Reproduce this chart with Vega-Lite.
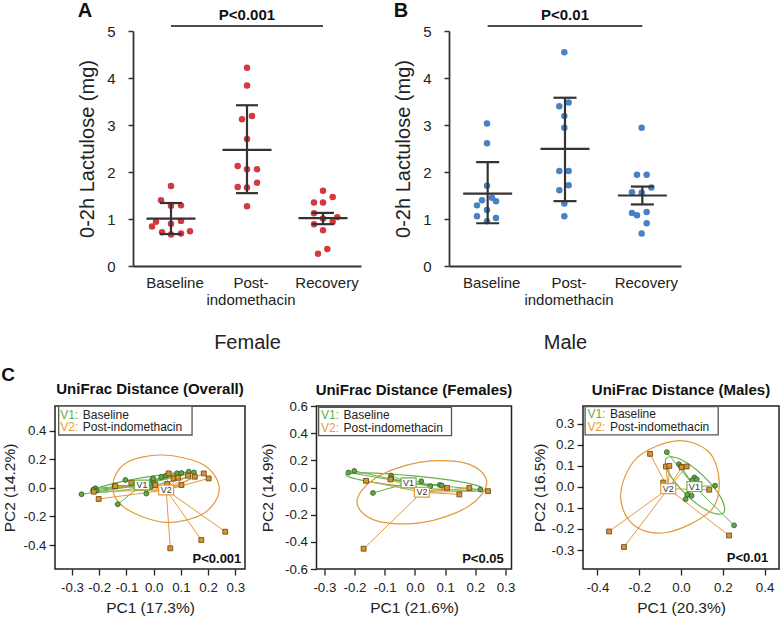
{
  "$schema": "https://vega.github.io/schema/vega-lite/v6.json",
  "padding": {"left": 1, "top": 1, "right": 0, "bottom": 0},
  "spacing": 13,
  "config": {
    "font": "Liberation Sans",
    "view": {"stroke": null},
    "axis": {"grid": false, "domainColor": "#333", "tickColor": "#333", "labelColor": "#222", "titleColor": "#222", "titleFontWeight": "normal", "labelFlush": false, "labelOverlap": false},
    "title": {"color": "#111"}
  },
  "datasets": {
    "fem": [
      {"t": "Baseline", "v": 1.70, "j": 0}, {"t": "Baseline", "v": 1.40, "j": -1}, {"t": "Baseline", "v": 1.28, "j": 0}, {"t": "Baseline", "v": 1.29, "j": 1},
      {"t": "Baseline", "v": 0.94, "j": -1.5}, {"t": "Baseline", "v": 0.84, "j": -1.9}, {"t": "Baseline", "v": 0.90, "j": 0}, {"t": "Baseline", "v": 0.96, "j": 1},
      {"t": "Baseline", "v": 0.72, "j": -0.9}, {"t": "Baseline", "v": 0.67, "j": 0}, {"t": "Baseline", "v": 0.69, "j": 1}, {"t": "Baseline", "v": 0.74, "j": 1.9},
      {"t": "Post-indomethacin", "v": 4.22, "j": 0}, {"t": "Post-indomethacin", "v": 3.84, "j": 0}, {"t": "Post-indomethacin", "v": 3.12, "j": -0.5}, {"t": "Post-indomethacin", "v": 3.19, "j": 0.5},
      {"t": "Post-indomethacin", "v": 2.70, "j": 0}, {"t": "Post-indomethacin", "v": 2.13, "j": -0.93}, {"t": "Post-indomethacin", "v": 2.06, "j": 0}, {"t": "Post-indomethacin", "v": 2.06, "j": 1},
      {"t": "Post-indomethacin", "v": 1.68, "j": -0.93}, {"t": "Post-indomethacin", "v": 1.67, "j": 0}, {"t": "Post-indomethacin", "v": 1.77, "j": 1}, {"t": "Post-indomethacin", "v": 1.27, "j": 0},
      {"t": "Recovery", "v": 1.60, "j": 0}, {"t": "Recovery", "v": 1.47, "j": 0.97}, {"t": "Recovery", "v": 1.35, "j": -0.9}, {"t": "Recovery", "v": 1.35, "j": 0},
      {"t": "Recovery", "v": 1.12, "j": -0.9}, {"t": "Recovery", "v": 1.01, "j": 0}, {"t": "Recovery", "v": 1.04, "j": 1.43}, {"t": "Recovery", "v": 0.94, "j": 0.97},
      {"t": "Recovery", "v": 0.89, "j": -0.9}, {"t": "Recovery", "v": 0.76, "j": 0}, {"t": "Recovery", "v": 0.36, "j": 0.43}, {"t": "Recovery", "v": 0.26, "j": -0.5}
    ],
    "femstat": [
      {"t": "Baseline", "mean": 1.01, "lo": 0.68, "hi": 1.34},
      {"t": "Post-indomethacin", "mean": 2.47, "lo": 1.55, "hi": 3.42},
      {"t": "Recovery", "mean": 1.02, "lo": 0.89, "hi": 1.13}
    ],
    "mal": [
      {"t": "Baseline", "v": 3.03, "j": 0}, {"t": "Baseline", "v": 2.61, "j": 0}, {"t": "Baseline", "v": 1.71, "j": 0}, {"t": "Baseline", "v": 1.40, "j": -0.5},
      {"t": "Baseline", "v": 1.45, "j": 0.5}, {"t": "Baseline", "v": 1.38, "j": 0.9}, {"t": "Baseline", "v": 1.29, "j": -1}, {"t": "Baseline", "v": 1.19, "j": 0},
      {"t": "Baseline", "v": 1.06, "j": -1}, {"t": "Baseline", "v": 1.02, "j": 0.9}, {"t": "Baseline", "v": 0.95, "j": 0},
      {"t": "Post-indomethacin", "v": 4.55, "j": 0}, {"t": "Post-indomethacin", "v": 3.40, "j": -0.5}, {"t": "Post-indomethacin", "v": 3.48, "j": 0.43}, {"t": "Post-indomethacin", "v": 3.19, "j": 0},
      {"t": "Post-indomethacin", "v": 2.94, "j": 0}, {"t": "Post-indomethacin", "v": 2.02, "j": -0.5}, {"t": "Post-indomethacin", "v": 2.02, "j": 0.43}, {"t": "Post-indomethacin", "v": 1.72, "j": 0.43},
      {"t": "Post-indomethacin", "v": 1.61, "j": -0.5}, {"t": "Post-indomethacin", "v": 1.33, "j": 0}, {"t": "Post-indomethacin", "v": 1.06, "j": 0},
      {"t": "Recovery", "v": 2.94, "j": 0}, {"t": "Recovery", "v": 1.94, "j": -0.47}, {"t": "Recovery", "v": 1.94, "j": 0.5}, {"t": "Recovery", "v": 1.67, "j": 0.97},
      {"t": "Recovery", "v": 1.57, "j": -0.97}, {"t": "Recovery", "v": 1.56, "j": 0}, {"t": "Recovery", "v": 1.13, "j": -0.97}, {"t": "Recovery", "v": 1.08, "j": -0.47},
      {"t": "Recovery", "v": 1.15, "j": 0.5}, {"t": "Recovery", "v": 0.91, "j": 0.5}, {"t": "Recovery", "v": 0.69, "j": 0}
    ],
    "malstat": [
      {"t": "Baseline", "mean": 1.54, "lo": 0.91, "hi": 2.21},
      {"t": "Post-indomethacin", "mean": 2.49, "lo": 1.38, "hi": 3.58},
      {"t": "Recovery", "mean": 1.50, "lo": 1.31, "hi": 1.69}
    ],
    "o_pts": [
      {"v": "V1", "x": -0.265, "y": -0.045}, {"v": "V1", "x": -0.214, "y": -0.003}, {"v": "V1", "x": -0.210, "y": -0.020}, {"v": "V1", "x": -0.222, "y": -0.013},
      {"v": "V1", "x": -0.144, "y": 0.015}, {"v": "V1", "x": -0.104, "y": 0.055}, {"v": "V1", "x": -0.132, "y": -0.115}, {"v": "V1", "x": -0.027, "y": -0.040},
      {"v": "V1", "x": -0.006, "y": 0.055}, {"v": "V1", "x": 0.001, "y": 0.036}, {"v": "V1", "x": -0.002, "y": 0.066}, {"v": "V1", "x": 0.028, "y": 0.076},
      {"v": "V1", "x": 0.086, "y": 0.102}, {"v": "V1", "x": 0.102, "y": 0.104}, {"v": "V1", "x": 0.129, "y": 0.113}, {"v": "V1", "x": 0.148, "y": 0.108},
      {"v": "V1", "x": -0.010, "y": 0.006}, {"v": "V1", "x": 0.045, "y": 0.085},
      {"v": "V2", "x": -0.202, "y": -0.078}, {"v": "V2", "x": -0.141, "y": 0.012}, {"v": "V2", "x": -0.082, "y": 0.036}, {"v": "V2", "x": -0.220, "y": -0.027},
      {"v": "V2", "x": 0.055, "y": 0.101}, {"v": "V2", "x": 0.049, "y": 0.027}, {"v": "V2", "x": 0.073, "y": 0.066}, {"v": "V2", "x": 0.090, "y": 0.071},
      {"v": "V2", "x": 0.102, "y": 0.020}, {"v": "V2", "x": 0.126, "y": 0.085}, {"v": "V2", "x": 0.151, "y": 0.078}, {"v": "V2", "x": 0.184, "y": 0.101},
      {"v": "V2", "x": 0.202, "y": 0.066}, {"v": "V2", "x": 0.263, "y": -0.307}, {"v": "V2", "x": 0.175, "y": -0.365}, {"v": "V2", "x": 0.061, "y": -0.423},
      {"v": "V2", "x": 0.006, "y": 0.020}
    ],
    "o_cent": [{"v": "V1", "x": -0.043, "y": 0.020}, {"v": "V2", "x": 0.046, "y": -0.015}],
    "o_ell": [
      {"v": "V1", "i": 0, "x": 0.154, "y": 0.103}, {"v": "V1", "i": 1, "x": 0.100, "y": 0.062}, {"v": "V1", "i": 2, "x": -0.036, "y": 0.006}, {"v": "V1", "i": 3, "x": -0.173, "y": -0.029},
      {"v": "V1", "i": 4, "x": -0.232, "y": -0.025}, {"v": "V1", "i": 5, "x": -0.177, "y": 0.016}, {"v": "V1", "i": 6, "x": -0.042, "y": 0.071}, {"v": "V1", "i": 7, "x": 0.095, "y": 0.107},
      {"v": "V2", "i": 0, "x": -0.151, "y": 0.008}, {"v": "V2", "i": 1, "x": -0.104, "y": 0.171}, {"v": "V2", "i": 2, "x": 0.031, "y": 0.230}, {"v": "V2", "i": 3, "x": 0.184, "y": 0.160},
      {"v": "V2", "i": 4, "x": 0.241, "y": -0.008}, {"v": "V2", "i": 5, "x": 0.184, "y": -0.178}, {"v": "V2", "i": 6, "x": 0.043, "y": -0.241}, {"v": "V2", "i": 7, "x": -0.104, "y": -0.143}
    ],
    "f_pts": [
      {"v": "V1", "x": -0.220, "y": 0.110}, {"v": "V1", "x": -0.201, "y": 0.122}, {"v": "V1", "x": -0.139, "y": -0.040}, {"v": "V1", "x": -0.079, "y": 0.088},
      {"v": "V1", "x": -0.079, "y": 0.068}, {"v": "V1", "x": 0.021, "y": 0.046}, {"v": "V1", "x": 0.051, "y": 0.010}, {"v": "V1", "x": 0.082, "y": 0.019},
      {"v": "V1", "x": 0.089, "y": 0.015}, {"v": "V1", "x": 0.217, "y": -0.015},
      {"v": "V2", "x": -0.162, "y": 0.049}, {"v": "V2", "x": -0.081, "y": 0.059}, {"v": "V2", "x": 0.106, "y": -0.003}, {"v": "V2", "x": 0.147, "y": -0.051},
      {"v": "V2", "x": 0.180, "y": -0.003}, {"v": "V2", "x": 0.242, "y": -0.027}, {"v": "V2", "x": -0.170, "y": -0.451}
    ],
    "f_cent": [{"v": "V1", "x": -0.021, "y": 0.034}, {"v": "V2", "x": 0.023, "y": -0.035}],
    "f_ell": [
      {"v": "V1", "i": 0, "x": 0.221, "y": -0.005}, {"v": "V1", "i": 1, "x": 0.154, "y": -0.020}, {"v": "V1", "i": 2, "x": -0.006, "y": 0.002}, {"v": "V1", "i": 3, "x": -0.166, "y": 0.049},
      {"v": "V1", "i": 4, "x": -0.229, "y": 0.093}, {"v": "V1", "i": 5, "x": -0.163, "y": 0.108}, {"v": "V1", "i": 6, "x": -0.003, "y": 0.085}, {"v": "V1", "i": 7, "x": 0.157, "y": 0.039},
      {"v": "V2", "i": 0, "x": 0.238, "y": 0.037}, {"v": "V2", "i": 1, "x": 0.175, "y": 0.174}, {"v": "V2", "i": 2, "x": 0.023, "y": 0.189}, {"v": "V2", "i": 3, "x": -0.129, "y": 0.072},
      {"v": "V2", "i": 4, "x": -0.192, "y": -0.107}, {"v": "V2", "i": 5, "x": -0.129, "y": -0.244}, {"v": "V2", "i": 6, "x": 0.023, "y": -0.259}, {"v": "V2", "i": 7, "x": 0.175, "y": -0.142}
    ],
    "m_pts": [
      {"v": "V1", "x": -0.068, "y": 0.164}, {"v": "V1", "x": -0.010, "y": 0.107}, {"v": "V1", "x": 0.000, "y": 0.096}, {"v": "V1", "x": 0.064, "y": 0.044},
      {"v": "V1", "x": 0.075, "y": 0.036}, {"v": "V1", "x": 0.054, "y": 0.031}, {"v": "V1", "x": 0.163, "y": 0.005}, {"v": "V1", "x": 0.254, "y": -0.183},
      {"v": "V1", "x": 0.030, "y": -0.038}, {"v": "V1", "x": 0.051, "y": -0.043}, {"v": "V1", "x": 0.022, "y": -0.059},
      {"v": "V2", "x": -0.148, "y": 0.156}, {"v": "V2", "x": -0.072, "y": 0.096}, {"v": "V2", "x": -0.056, "y": 0.099}, {"v": "V2", "x": 0.003, "y": 0.093},
      {"v": "V2", "x": 0.027, "y": 0.096}, {"v": "V2", "x": -0.085, "y": 0.020}, {"v": "V2", "x": 0.135, "y": -0.014}, {"v": "V2", "x": -0.344, "y": -0.212},
      {"v": "V2", "x": -0.273, "y": -0.286}, {"v": "V2", "x": 0.230, "y": -0.231}
    ],
    "m_cent": [{"v": "V1", "x": 0.064, "y": 0.001}, {"v": "V2", "x": -0.061, "y": -0.009}],
    "m_ell": [
      {"v": "V1", "i": 0, "x": 0.204, "y": -0.124}, {"v": "V1", "i": 1, "x": 0.134, "y": -0.117}, {"v": "V1", "i": 2, "x": 0.025, "y": -0.037}, {"v": "V1", "i": 3, "x": -0.059, "y": 0.067},
      {"v": "V1", "i": 4, "x": -0.070, "y": 0.136}, {"v": "V1", "i": 5, "x": 0.000, "y": 0.129}, {"v": "V1", "i": 6, "x": 0.109, "y": 0.049}, {"v": "V1", "i": 7, "x": 0.193, "y": -0.055},
      {"v": "V2", "i": 0, "x": -0.021, "y": 0.218}, {"v": "V2", "i": 1, "x": 0.131, "y": 0.167}, {"v": "V2", "i": 2, "x": 0.183, "y": 0.025}, {"v": "V2", "i": 3, "x": 0.139, "y": -0.117},
      {"v": "V2", "i": 4, "x": -0.068, "y": -0.217}, {"v": "V2", "i": 5, "x": -0.228, "y": -0.180}, {"v": "V2", "i": 6, "x": -0.289, "y": -0.038}, {"v": "V2", "i": 7, "x": -0.212, "y": 0.136}
    ]
  },
  "vconcat": [
    {
      "bounds": "flush",
      "spacing": 76,
      "hconcat": [
        {"width": 2, "height": 10, "data": {"values": []}, "mark": "point", "encoding": {}},
        {
          "bounds": "flush",
          "spacing": 88,
          "hconcat": [
            {
              "width": 228, "height": 235,
              "title": {"text": "A", "anchor": "start", "frame": "bounds", "fontSize": 20, "fontWeight": "bold", "offset": -13},
              "layer": [
                {
                  "data": {"name": "fem"},
                  "mark": {"type": "point", "filled": true, "size": 42, "color": "#d13b40", "opacity": 1},
                  "encoding": {
                    "x": {"field": "t", "type": "nominal", "scale": {"domain": ["Baseline", "Post-indomethacin", "Recovery"], "paddingInner": 0, "paddingOuter": 0},
                      "axis": {"title": "Female", "ticks": false, "labelAngle": 0, "labelFontSize": 15, "labelPadding": 9, "labelLineHeight": 17, "labelOffset": 4,
                        "labelExpr": "datum.label == 'Post-indomethacin' ? ['Post-', 'indomethacin'] : datum.label",
                        "titleFontSize": 20, "titlePadding": 25, "domainWidth": 1.8}},
                    "xOffset": {"field": "j", "type": "quantitative", "scale": {"domain": [-2, 2], "range": [18, 58]}},
                    "y": {"field": "v", "type": "quantitative", "scale": {"domain": [0, 5], "nice": false},
                      "axis": {"title": "0-2h Lactulose (mg)", "values": [0, 1, 2, 3, 4, 5], "tickSize": 5, "tickWidth": 1.5, "labelFontSize": 15, "labelPadding": 13, "titleFontSize": 20, "titlePadding": 9, "domainWidth": 1.8}}
                  }
                },
                {
                  "data": {"name": "femstat"},
                  "mark": {"type": "rule", "color": "#333", "strokeWidth": 2.2},
                  "encoding": {
                    "x": {"field": "t", "type": "nominal", "scale": {"domain": ["Baseline", "Post-indomethacin", "Recovery"], "paddingInner": 0, "paddingOuter": 0}},
                    "y": {"field": "lo", "type": "quantitative", "scale": {"domain": [0, 5], "nice": false}},
                    "y2": {"field": "hi"}
                  }
                },
                {
                  "data": {"name": "femstat"},
                  "mark": {"type": "tick", "color": "#333", "thickness": 2.2, "size": 49, "opacity": 1},
                  "encoding": {
                    "x": {"field": "t", "type": "nominal", "scale": {"domain": ["Baseline", "Post-indomethacin", "Recovery"], "paddingInner": 0, "paddingOuter": 0}},
                    "y": {"field": "mean", "type": "quantitative", "scale": {"domain": [0, 5], "nice": false}}
                  }
                },
                {
                  "data": {"name": "femstat"},
                  "mark": {"type": "tick", "color": "#333", "thickness": 2.2, "size": 22, "opacity": 1},
                  "encoding": {
                    "x": {"field": "t", "type": "nominal", "scale": {"domain": ["Baseline", "Post-indomethacin", "Recovery"], "paddingInner": 0, "paddingOuter": 0}},
                    "y": {"field": "hi", "type": "quantitative", "scale": {"domain": [0, 5], "nice": false}}
                  }
                },
                {
                  "data": {"name": "femstat"},
                  "mark": {"type": "tick", "color": "#333", "thickness": 2.2, "size": 22, "opacity": 1},
                  "encoding": {
                    "x": {"field": "t", "type": "nominal", "scale": {"domain": ["Baseline", "Post-indomethacin", "Recovery"], "paddingInner": 0, "paddingOuter": 0}},
                    "y": {"field": "lo", "type": "quantitative", "scale": {"domain": [0, 5], "nice": false}}
                  }
                },
                {
                  "data": {"values": [{"label": "P<0.001"}]},
                  "mark": {"type": "rule", "color": "#111", "strokeWidth": 1.6},
                  "encoding": {
                    "x": {"datum": "Baseline", "type": "nominal", "bandPosition": 0.5, "scale": {"domain": ["Baseline", "Post-indomethacin", "Recovery"], "paddingInner": 0, "paddingOuter": 0}},
                    "x2": {"datum": "Recovery", "bandPosition": 0.5},
                    "y": {"datum": 5.106, "type": "quantitative", "scale": {"domain": [0, 5], "nice": false}}
                  }
                },
                {
                  "data": {"values": [{"label": "P<0.001"}]},
                  "mark": {"type": "text", "fontSize": 15, "fontWeight": "bold", "color": "#111", "baseline": "alphabetic", "align": "center"},
                  "encoding": {
                    "x": {"datum": "Post-indomethacin", "type": "nominal", "scale": {"domain": ["Baseline", "Post-indomethacin", "Recovery"], "paddingInner": 0, "paddingOuter": 0}},
                    "y": {"datum": 5.23, "type": "quantitative", "scale": {"domain": [0, 5], "nice": false}},
                    "text": {"field": "label"}
                  }
                }
              ]
            },
            {
              "width": 232, "height": 235,
              "title": {"text": "B", "anchor": "start", "frame": "bounds", "fontSize": 20, "fontWeight": "bold", "offset": -13},
              "layer": [
                {
                  "data": {"name": "mal"},
                  "mark": {"type": "point", "filled": true, "size": 42, "color": "#4a80c4", "opacity": 1},
                  "encoding": {
                    "x": {"field": "t", "type": "nominal", "scale": {"domain": ["Baseline", "Post-indomethacin", "Recovery"], "paddingInner": 0, "paddingOuter": 0},
                      "axis": {"title": "Male", "ticks": false, "labelAngle": 0, "labelFontSize": 15, "labelPadding": 9, "labelLineHeight": 17, "labelOffset": 4,
                        "labelExpr": "datum.label == 'Post-indomethacin' ? ['Post-', 'indomethacin'] : datum.label",
                        "titleFontSize": 20, "titlePadding": 25, "domainWidth": 1.8}},
                    "xOffset": {"field": "j", "type": "quantitative", "scale": {"domain": [-2, 2], "range": [18.67, 58.67]}},
                    "y": {"field": "v", "type": "quantitative", "scale": {"domain": [0, 5], "nice": false},
                      "axis": {"title": "0-2h Lactulose (mg)", "values": [0, 1, 2, 3, 4, 5], "tickSize": 5, "tickWidth": 1.5, "labelFontSize": 15, "labelPadding": 13, "titleFontSize": 20, "titlePadding": 9, "domainWidth": 1.8}}
                  }
                },
                {
                  "data": {"name": "malstat"},
                  "mark": {"type": "rule", "color": "#333", "strokeWidth": 2.2},
                  "encoding": {
                    "x": {"field": "t", "type": "nominal", "scale": {"domain": ["Baseline", "Post-indomethacin", "Recovery"], "paddingInner": 0, "paddingOuter": 0}},
                    "y": {"field": "lo", "type": "quantitative", "scale": {"domain": [0, 5], "nice": false}},
                    "y2": {"field": "hi"}
                  }
                },
                {
                  "data": {"name": "malstat"},
                  "mark": {"type": "tick", "color": "#333", "thickness": 2.2, "size": 49, "opacity": 1},
                  "encoding": {
                    "x": {"field": "t", "type": "nominal", "scale": {"domain": ["Baseline", "Post-indomethacin", "Recovery"], "paddingInner": 0, "paddingOuter": 0}},
                    "y": {"field": "mean", "type": "quantitative", "scale": {"domain": [0, 5], "nice": false}}
                  }
                },
                {
                  "data": {"name": "malstat"},
                  "mark": {"type": "tick", "color": "#333", "thickness": 2.2, "size": 23, "opacity": 1},
                  "encoding": {
                    "x": {"field": "t", "type": "nominal", "scale": {"domain": ["Baseline", "Post-indomethacin", "Recovery"], "paddingInner": 0, "paddingOuter": 0}},
                    "y": {"field": "hi", "type": "quantitative", "scale": {"domain": [0, 5], "nice": false}}
                  }
                },
                {
                  "data": {"name": "malstat"},
                  "mark": {"type": "tick", "color": "#333", "thickness": 2.2, "size": 23, "opacity": 1},
                  "encoding": {
                    "x": {"field": "t", "type": "nominal", "scale": {"domain": ["Baseline", "Post-indomethacin", "Recovery"], "paddingInner": 0, "paddingOuter": 0}},
                    "y": {"field": "lo", "type": "quantitative", "scale": {"domain": [0, 5], "nice": false}}
                  }
                },
                {
                  "data": {"values": [{"label": "P<0.01"}]},
                  "mark": {"type": "rule", "color": "#111", "strokeWidth": 1.6},
                  "encoding": {
                    "x": {"datum": "Baseline", "type": "nominal", "bandPosition": 0.5, "scale": {"domain": ["Baseline", "Post-indomethacin", "Recovery"], "paddingInner": 0, "paddingOuter": 0}},
                    "x2": {"datum": "Recovery", "bandPosition": 0.5},
                    "y": {"datum": 5.106, "type": "quantitative", "scale": {"domain": [0, 5], "nice": false}}
                  }
                },
                {
                  "data": {"values": [{"label": "P<0.01"}]},
                  "mark": {"type": "text", "fontSize": 15, "fontWeight": "bold", "color": "#111", "baseline": "alphabetic", "align": "center"},
                  "encoding": {
                    "x": {"datum": "Post-indomethacin", "type": "nominal", "scale": {"domain": ["Baseline", "Post-indomethacin", "Recovery"], "paddingInner": 0, "paddingOuter": 0}},
                    "y": {"datum": 5.23, "type": "quantitative", "scale": {"domain": [0, 5], "nice": false}},
                    "text": {"field": "label"}
                  }
                }
              ]
            }
          ]
        }
      ]
    },
    {
      "vconcat": [
        {
          "bounds": "flush",
          "spacing": 71.5,
          "title": {"text": "C", "anchor": "start", "frame": "bounds", "fontSize": 19, "fontWeight": "bold", "offset": -3},
          "hconcat": [
            {
              "width": 190, "height": 163,
              "view": {"stroke": "#222", "strokeWidth": 1.5},
              "title": {"text": "UniFrac Distance (Overall)", "frame": "group", "anchor": "middle", "fontSize": 15, "fontWeight": "bold", "offset": 8},
              "layer": [
                {
                  "encoding": {
                    "x": {"field": "x", "type": "quantitative", "scale": {"domain": [-0.3625, 0.3355], "nice": false, "zero": false},
                      "axis": {"title": "PC1 (17.3%)", "values": [-0.3, -0.2, -0.1, 0, 0.1, 0.2, 0.3], "labelExpr": "(datum.value < 0 ? '-' : '') + format(abs(datum.value), '.1f')", "labelOverlap": false, "domain": false, "tickSize": 6, "tickWidth": 1.3, "tickColor": "#222", "labelFontSize": 13.3, "labelPadding": 5, "titleFontSize": 15.5, "titlePadding": 7}},
                    "y": {"field": "y", "type": "quantitative", "scale": {"domain": [-0.568, 0.573], "nice": false, "zero": false},
                      "axis": {"title": "PC2 (14.2%)", "values": [-0.4, -0.2, 0, 0.2, 0.4], "labelExpr": "(datum.value < 0 ? '-' : '') + format(abs(datum.value), '.1f')", "labelOverlap": false, "domain": false, "tickSize": 6, "tickWidth": 1.3, "tickColor": "#222", "labelFontSize": 13.3, "labelPadding": 3, "titleFontSize": 15.5, "titlePadding": 6}}
                  },
                  "layer": [
                    {"data": {"name": "o_ell"}, "mark": {"type": "line", "interpolate": "cardinal-closed", "strokeWidth": 1.2},
                      "encoding": {"color": {"field": "v", "type": "nominal", "scale": {"domain": ["V1", "V2"], "range": ["#6ab04c", "#e39a3b"]}, "legend": null}, "order": {"field": "i", "type": "quantitative"}}},
                    {"data": {"name": "o_pts"}, "transform": [{"lookup": "v", "from": {"data": {"name": "o_cent"}, "key": "v", "fields": ["x", "y"]}, "as": ["cx", "cy"]}],
                      "mark": {"type": "rule", "strokeWidth": 1},
                      "encoding": {"x2": {"field": "cx"}, "y2": {"field": "cy"}, "color": {"field": "v", "type": "nominal", "scale": {"domain": ["V1", "V2"], "range": ["#6ab04c", "#e39a3b"]}, "legend": null}}},
                    {"data": {"name": "o_pts"}, "mark": {"type": "point", "filled": true, "size": 24, "strokeWidth": 0.8, "opacity": 1},
                      "encoding": {
                        "fill": {"field": "v", "type": "nominal", "scale": {"domain": ["V1", "V2"], "range": ["#63a646", "#d8922f"]}, "legend": null},
                        "stroke": {"field": "v", "type": "nominal", "scale": {"domain": ["V1", "V2"], "range": ["#2d5a1e", "#6a4310"]}, "legend": null},
                        "shape": {"field": "v", "type": "nominal", "scale": {"domain": ["V1", "V2"], "range": ["circle", "square"]}, "legend": null}}},
                    {"data": {"name": "o_cent"}, "mark": {"type": "point", "shape": "M-1,-0.66L1,-0.66L1,0.66L-1,0.66Z", "size": 225, "filled": false, "fill": "white", "strokeWidth": 1.2, "opacity": 1},
                      "encoding": {"color": {"field": "v", "type": "nominal", "scale": {"domain": ["V1", "V2"], "range": ["#6ab04c", "#e39a3b"]}, "legend": null}}},
                    {"data": {"name": "o_cent"}, "mark": {"type": "text", "fontSize": 9, "color": "#333", "align": "center", "baseline": "middle"},
                      "encoding": {"text": {"field": "v"}}}
                  ]
                },
                {"data": {"values": [{"note": "legend"}]}, "mark": {"type": "rect", "fill": "white", "stroke": "#555", "strokeWidth": 1.3},
                  "encoding": {
                    "x": {"datum": -0.349, "type": "quantitative", "scale": {"domain": [-0.3625, 0.3355], "nice": false, "zero": false},
                      "axis": {"title": "PC1 (17.3%)", "values": [-0.3, -0.2, -0.1, 0, 0.1, 0.2, 0.3], "labelExpr": "(datum.value < 0 ? '-' : '') + format(abs(datum.value), '.1f')", "labelOverlap": false, "domain": false, "tickSize": 6, "tickWidth": 1.3, "tickColor": "#222", "labelFontSize": 13.3, "labelPadding": 5, "titleFontSize": 15.5, "titlePadding": 7}},
                    "x2": {"datum": 0.141},
                    "y": {"datum": 0.370, "type": "quantitative", "scale": {"domain": [-0.568, 0.573], "nice": false, "zero": false},
                      "axis": {"title": "PC2 (14.2%)", "values": [-0.4, -0.2, 0, 0.2, 0.4], "labelExpr": "(datum.value < 0 ? '-' : '') + format(abs(datum.value), '.1f')", "labelOverlap": false, "domain": false, "tickSize": 6, "tickWidth": 1.3, "tickColor": "#222", "labelFontSize": 13.3, "labelPadding": 3, "titleFontSize": 15.5, "titlePadding": 6}},
                    "y2": {"datum": 0.573}}},
                {"data": {"values": [{"note": "legend"}]},
                  "layer": [
                    {"mark": {"type": "text", "text": "V1:", "fontSize": 12, "color": "#5cb048", "align": "left", "baseline": "alphabetic"},
                      "encoding": {"y": {"datum": 0.481, "type": "quantitative", "scale": {"domain": [-0.568, 0.573], "nice": false, "zero": false},
                        "axis": {"title": "PC2 (14.2%)", "values": [-0.4, -0.2, 0, 0.2, 0.4], "labelExpr": "(datum.value < 0 ? '-' : '') + format(abs(datum.value), '.1f')", "labelOverlap": false, "domain": false, "tickSize": 6, "tickWidth": 1.3, "tickColor": "#222", "labelFontSize": 13.3, "labelPadding": 3, "titleFontSize": 15.5, "titlePadding": 6}}}},
                    {"mark": {"type": "text", "text": "Baseline", "fontSize": 12, "color": "#222", "align": "left", "baseline": "alphabetic", "dx": 22.5},
                      "encoding": {"y": {"datum": 0.481, "type": "quantitative", "scale": {"domain": [-0.568, 0.573], "nice": false, "zero": false},
                        "axis": {"title": "PC2 (14.2%)", "values": [-0.4, -0.2, 0, 0.2, 0.4], "labelExpr": "(datum.value < 0 ? '-' : '') + format(abs(datum.value), '.1f')", "labelOverlap": false, "domain": false, "tickSize": 6, "tickWidth": 1.3, "tickColor": "#222", "labelFontSize": 13.3, "labelPadding": 3, "titleFontSize": 15.5, "titlePadding": 6}}}},
                    {"mark": {"type": "text", "text": "V2:", "fontSize": 12, "color": "#ea9a35", "align": "left", "baseline": "alphabetic"},
                      "encoding": {"y": {"datum": 0.397, "type": "quantitative", "scale": {"domain": [-0.568, 0.573], "nice": false, "zero": false},
                        "axis": {"title": "PC2 (14.2%)", "values": [-0.4, -0.2, 0, 0.2, 0.4], "labelExpr": "(datum.value < 0 ? '-' : '') + format(abs(datum.value), '.1f')", "labelOverlap": false, "domain": false, "tickSize": 6, "tickWidth": 1.3, "tickColor": "#222", "labelFontSize": 13.3, "labelPadding": 3, "titleFontSize": 15.5, "titlePadding": 6}}}},
                    {"mark": {"type": "text", "text": "Post-indomethacin", "fontSize": 12, "color": "#222", "align": "left", "baseline": "alphabetic", "dx": 22.5},
                      "encoding": {"y": {"datum": 0.397, "type": "quantitative", "scale": {"domain": [-0.568, 0.573], "nice": false, "zero": false},
                        "axis": {"title": "PC2 (14.2%)", "values": [-0.4, -0.2, 0, 0.2, 0.4], "labelExpr": "(datum.value < 0 ? '-' : '') + format(abs(datum.value), '.1f')", "labelOverlap": false, "domain": false, "tickSize": 6, "tickWidth": 1.3, "tickColor": "#222", "labelFontSize": 13.3, "labelPadding": 3, "titleFontSize": 15.5, "titlePadding": 6}}}}
                  ],
                  "encoding": {"x": {"datum": -0.343, "type": "quantitative", "scale": {"domain": [-0.3625, 0.3355], "nice": false, "zero": false},
                    "axis": {"title": "PC1 (17.3%)", "values": [-0.3, -0.2, -0.1, 0, 0.1, 0.2, 0.3], "labelExpr": "(datum.value < 0 ? '-' : '') + format(abs(datum.value), '.1f')", "labelOverlap": false, "domain": false, "tickSize": 6, "tickWidth": 1.3, "tickColor": "#222", "labelFontSize": 13.3, "labelPadding": 5, "titleFontSize": 15.5, "titlePadding": 7}}}
                },
                {"data": {"values": [{"note": "p"}]}, "mark": {"type": "text", "text": "P<0.001", "fontSize": 13, "fontWeight": "bold", "color": "#111", "align": "right", "baseline": "alphabetic"},
                  "encoding": {
                    "x": {"datum": 0.322, "type": "quantitative", "scale": {"domain": [-0.3625, 0.3355], "nice": false, "zero": false},
                      "axis": {"title": "PC1 (17.3%)", "values": [-0.3, -0.2, -0.1, 0, 0.1, 0.2, 0.3], "labelExpr": "(datum.value < 0 ? '-' : '') + format(abs(datum.value), '.1f')", "labelOverlap": false, "domain": false, "tickSize": 6, "tickWidth": 1.3, "tickColor": "#222", "labelFontSize": 13.3, "labelPadding": 5, "titleFontSize": 15.5, "titlePadding": 7}},
                    "y": {"datum": -0.528, "type": "quantitative", "scale": {"domain": [-0.568, 0.573], "nice": false, "zero": false},
                      "axis": {"title": "PC2 (14.2%)", "values": [-0.4, -0.2, 0, 0.2, 0.4], "labelExpr": "(datum.value < 0 ? '-' : '') + format(abs(datum.value), '.1f')", "labelOverlap": false, "domain": false, "tickSize": 6, "tickWidth": 1.3, "tickColor": "#222", "labelFontSize": 13.3, "labelPadding": 3, "titleFontSize": 15.5, "titlePadding": 6}}}}
              ]
            },
            {
              "width": 195, "height": 163,
              "view": {"stroke": "#222", "strokeWidth": 1.5},
              "title": {"text": "UniFrac Distance (Females)", "frame": "group", "anchor": "middle", "fontSize": 15, "fontWeight": "bold", "offset": 1.5},
              "layer": [
                {
                  "encoding": {
                    "x": {"field": "x", "type": "quantitative", "scale": {"domain": [-0.326, 0.3197], "nice": false, "zero": false},
                      "axis": {"title": "PC1 (21.6%)", "values": [-0.3, -0.2, -0.1, 0, 0.1, 0.2, 0.3], "labelExpr": "(datum.value < 0 ? '-' : '') + format(abs(datum.value), '.1f')", "labelOverlap": false, "domain": false, "tickSize": 6, "tickWidth": 1.3, "tickColor": "#222", "labelFontSize": 13.3, "labelPadding": 5, "titleFontSize": 15.5, "titlePadding": 7}},
                    "y": {"field": "y", "type": "quantitative", "scale": {"domain": [-0.6, 0.6], "nice": false, "zero": false},
                      "axis": {"title": "PC2 (14.9%)", "values": [-0.6, -0.4, -0.2, 0, 0.2, 0.4, 0.6], "labelExpr": "(datum.value < 0 ? '-' : '') + format(abs(datum.value), '.1f')", "labelOverlap": false, "domain": false, "tickSize": 6, "tickWidth": 1.3, "tickColor": "#222", "labelFontSize": 13.3, "labelPadding": 3, "titleFontSize": 15.5, "titlePadding": 9}}
                  },
                  "layer": [
                    {"data": {"name": "f_ell"}, "mark": {"type": "line", "interpolate": "cardinal-closed", "strokeWidth": 1.2},
                      "encoding": {"color": {"field": "v", "type": "nominal", "scale": {"domain": ["V1", "V2"], "range": ["#6ab04c", "#e39a3b"]}, "legend": null}, "order": {"field": "i", "type": "quantitative"}}},
                    {"data": {"name": "f_pts"}, "transform": [{"lookup": "v", "from": {"data": {"name": "f_cent"}, "key": "v", "fields": ["x", "y"]}, "as": ["cx", "cy"]}],
                      "mark": {"type": "rule", "strokeWidth": 1},
                      "encoding": {"x2": {"field": "cx"}, "y2": {"field": "cy"}, "color": {"field": "v", "type": "nominal", "scale": {"domain": ["V1", "V2"], "range": ["#6ab04c", "#e39a3b"]}, "legend": null}}},
                    {"data": {"name": "f_pts"}, "mark": {"type": "point", "filled": true, "size": 24, "strokeWidth": 0.8, "opacity": 1},
                      "encoding": {
                        "fill": {"field": "v", "type": "nominal", "scale": {"domain": ["V1", "V2"], "range": ["#63a646", "#d8922f"]}, "legend": null},
                        "stroke": {"field": "v", "type": "nominal", "scale": {"domain": ["V1", "V2"], "range": ["#2d5a1e", "#6a4310"]}, "legend": null},
                        "shape": {"field": "v", "type": "nominal", "scale": {"domain": ["V1", "V2"], "range": ["circle", "square"]}, "legend": null}}},
                    {"data": {"name": "f_cent"}, "mark": {"type": "point", "shape": "M-1,-0.66L1,-0.66L1,0.66L-1,0.66Z", "size": 225, "filled": false, "fill": "white", "strokeWidth": 1.2, "opacity": 1},
                      "encoding": {"color": {"field": "v", "type": "nominal", "scale": {"domain": ["V1", "V2"], "range": ["#6ab04c", "#e39a3b"]}, "legend": null}}},
                    {"data": {"name": "f_cent"}, "mark": {"type": "text", "fontSize": 9, "color": "#333", "align": "center", "baseline": "middle"},
                      "encoding": {"text": {"field": "v"}}}
                  ]
                },
                {"data": {"values": [{"note": "legend"}]}, "mark": {"type": "rect", "fill": "white", "stroke": "#555", "strokeWidth": 1.3},
                  "encoding": {
                    "x": {"datum": -0.319, "type": "quantitative", "scale": {"domain": [-0.326, 0.3197], "nice": false, "zero": false},
                      "axis": {"title": "PC1 (21.6%)", "values": [-0.3, -0.2, -0.1, 0, 0.1, 0.2, 0.3], "labelExpr": "(datum.value < 0 ? '-' : '') + format(abs(datum.value), '.1f')", "labelOverlap": false, "domain": false, "tickSize": 6, "tickWidth": 1.3, "tickColor": "#222", "labelFontSize": 13.3, "labelPadding": 5, "titleFontSize": 15.5, "titlePadding": 7}},
                    "x2": {"datum": 0.121},
                    "y": {"datum": 0.382, "type": "quantitative", "scale": {"domain": [-0.6, 0.6], "nice": false, "zero": false},
                      "axis": {"title": "PC2 (14.9%)", "values": [-0.6, -0.4, -0.2, 0, 0.2, 0.4, 0.6], "labelExpr": "(datum.value < 0 ? '-' : '') + format(abs(datum.value), '.1f')", "labelOverlap": false, "domain": false, "tickSize": 6, "tickWidth": 1.3, "tickColor": "#222", "labelFontSize": 13.3, "labelPadding": 3, "titleFontSize": 15.5, "titlePadding": 9}},
                    "y2": {"datum": 0.590}}},
                {"data": {"values": [{"note": "legend"}]},
                  "layer": [
                    {"mark": {"type": "text", "text": "V1:", "fontSize": 12, "color": "#5cb048", "align": "left", "baseline": "alphabetic"},
                      "encoding": {"y": {"datum": 0.504, "type": "quantitative", "scale": {"domain": [-0.6, 0.6], "nice": false, "zero": false},
                        "axis": {"title": "PC2 (14.9%)", "values": [-0.6, -0.4, -0.2, 0, 0.2, 0.4, 0.6], "labelExpr": "(datum.value < 0 ? '-' : '') + format(abs(datum.value), '.1f')", "labelOverlap": false, "domain": false, "tickSize": 6, "tickWidth": 1.3, "tickColor": "#222", "labelFontSize": 13.3, "labelPadding": 3, "titleFontSize": 15.5, "titlePadding": 9}}}},
                    {"mark": {"type": "text", "text": "Baseline", "fontSize": 12, "color": "#222", "align": "left", "baseline": "alphabetic", "dx": 22.5},
                      "encoding": {"y": {"datum": 0.504, "type": "quantitative", "scale": {"domain": [-0.6, 0.6], "nice": false, "zero": false},
                        "axis": {"title": "PC2 (14.9%)", "values": [-0.6, -0.4, -0.2, 0, 0.2, 0.4, 0.6], "labelExpr": "(datum.value < 0 ? '-' : '') + format(abs(datum.value), '.1f')", "labelOverlap": false, "domain": false, "tickSize": 6, "tickWidth": 1.3, "tickColor": "#222", "labelFontSize": 13.3, "labelPadding": 3, "titleFontSize": 15.5, "titlePadding": 9}}}},
                    {"mark": {"type": "text", "text": "V2:", "fontSize": 12, "color": "#ea9a35", "align": "left", "baseline": "alphabetic"},
                      "encoding": {"y": {"datum": 0.408, "type": "quantitative", "scale": {"domain": [-0.6, 0.6], "nice": false, "zero": false},
                        "axis": {"title": "PC2 (14.9%)", "values": [-0.6, -0.4, -0.2, 0, 0.2, 0.4, 0.6], "labelExpr": "(datum.value < 0 ? '-' : '') + format(abs(datum.value), '.1f')", "labelOverlap": false, "domain": false, "tickSize": 6, "tickWidth": 1.3, "tickColor": "#222", "labelFontSize": 13.3, "labelPadding": 3, "titleFontSize": 15.5, "titlePadding": 9}}}},
                    {"mark": {"type": "text", "text": "Post-indomethacin", "fontSize": 12, "color": "#222", "align": "left", "baseline": "alphabetic", "dx": 22.5},
                      "encoding": {"y": {"datum": 0.408, "type": "quantitative", "scale": {"domain": [-0.6, 0.6], "nice": false, "zero": false},
                        "axis": {"title": "PC2 (14.9%)", "values": [-0.6, -0.4, -0.2, 0, 0.2, 0.4, 0.6], "labelExpr": "(datum.value < 0 ? '-' : '') + format(abs(datum.value), '.1f')", "labelOverlap": false, "domain": false, "tickSize": 6, "tickWidth": 1.3, "tickColor": "#222", "labelFontSize": 13.3, "labelPadding": 3, "titleFontSize": 15.5, "titlePadding": 9}}}}
                  ],
                  "encoding": {"x": {"datum": -0.311, "type": "quantitative", "scale": {"domain": [-0.326, 0.3197], "nice": false, "zero": false},
                    "axis": {"title": "PC1 (21.6%)", "values": [-0.3, -0.2, -0.1, 0, 0.1, 0.2, 0.3], "labelExpr": "(datum.value < 0 ? '-' : '') + format(abs(datum.value), '.1f')", "labelOverlap": false, "domain": false, "tickSize": 6, "tickWidth": 1.3, "tickColor": "#222", "labelFontSize": 13.3, "labelPadding": 5, "titleFontSize": 15.5, "titlePadding": 7}}}
                },
                {"data": {"values": [{"note": "p"}]}, "mark": {"type": "text", "text": "P<0.05", "fontSize": 13, "fontWeight": "bold", "color": "#111", "align": "right", "baseline": "alphabetic"},
                  "encoding": {
                    "x": {"datum": 0.294, "type": "quantitative", "scale": {"domain": [-0.326, 0.3197], "nice": false, "zero": false},
                      "axis": {"title": "PC1 (21.6%)", "values": [-0.3, -0.2, -0.1, 0, 0.1, 0.2, 0.3], "labelExpr": "(datum.value < 0 ? '-' : '') + format(abs(datum.value), '.1f')", "labelOverlap": false, "domain": false, "tickSize": 6, "tickWidth": 1.3, "tickColor": "#222", "labelFontSize": 13.3, "labelPadding": 5, "titleFontSize": 15.5, "titlePadding": 7}},
                    "y": {"datum": -0.557, "type": "quantitative", "scale": {"domain": [-0.6, 0.6], "nice": false, "zero": false},
                      "axis": {"title": "PC2 (14.9%)", "values": [-0.6, -0.4, -0.2, 0, 0.2, 0.4, 0.6], "labelExpr": "(datum.value < 0 ? '-' : '') + format(abs(datum.value), '.1f')", "labelOverlap": false, "domain": false, "tickSize": 6, "tickWidth": 1.3, "tickColor": "#222", "labelFontSize": 13.3, "labelPadding": 3, "titleFontSize": 15.5, "titlePadding": 9}}}}
              ]
            },
            {
              "width": 196, "height": 163,
              "view": {"stroke": "#222", "strokeWidth": 1.5},
              "title": {"text": "UniFrac Distance (Males)", "frame": "group", "anchor": "middle", "fontSize": 15, "fontWeight": "bold", "offset": 8},
              "layer": [
                {
                  "encoding": {
                    "x": {"field": "x", "type": "quantitative", "scale": {"domain": [-0.469, 0.469], "nice": false, "zero": false},
                      "axis": {"title": "PC1 (20.3%)", "values": [-0.4, -0.2, 0, 0.2, 0.4], "labelExpr": "(datum.value < 0 ? '-' : '') + format(abs(datum.value), '.1f')", "labelOverlap": false, "domain": false, "tickSize": 6, "tickWidth": 1.3, "tickColor": "#222", "labelFontSize": 13.3, "labelPadding": 5, "titleFontSize": 15.5, "titlePadding": 7}},
                    "y": {"field": "y", "type": "quantitative", "scale": {"domain": [-0.39, 0.383], "nice": false, "zero": false},
                      "axis": {"title": "PC2 (16.5%)", "values": [-0.3, -0.2, -0.1, 0, 0.1, 0.2, 0.3], "labelExpr": "datum.value == -0.1 ? '0.1' : (datum.value < 0 ? '-' : '') + format(abs(datum.value), '.1f')", "labelOverlap": false, "domain": false, "tickSize": 6, "tickWidth": 1.3, "tickColor": "#222", "labelFontSize": 13.3, "labelPadding": 3, "titleFontSize": 15.5, "titlePadding": 4}}
                  },
                  "layer": [
                    {"data": {"name": "m_ell"}, "mark": {"type": "line", "interpolate": "cardinal-closed", "strokeWidth": 1.2},
                      "encoding": {"color": {"field": "v", "type": "nominal", "scale": {"domain": ["V1", "V2"], "range": ["#6ab04c", "#e39a3b"]}, "legend": null}, "order": {"field": "i", "type": "quantitative"}}},
                    {"data": {"name": "m_pts"}, "transform": [{"lookup": "v", "from": {"data": {"name": "m_cent"}, "key": "v", "fields": ["x", "y"]}, "as": ["cx", "cy"]}],
                      "mark": {"type": "rule", "strokeWidth": 1},
                      "encoding": {"x2": {"field": "cx"}, "y2": {"field": "cy"}, "color": {"field": "v", "type": "nominal", "scale": {"domain": ["V1", "V2"], "range": ["#6ab04c", "#e39a3b"]}, "legend": null}}},
                    {"data": {"name": "m_pts"}, "mark": {"type": "point", "filled": true, "size": 24, "strokeWidth": 0.8, "opacity": 1},
                      "encoding": {
                        "fill": {"field": "v", "type": "nominal", "scale": {"domain": ["V1", "V2"], "range": ["#63a646", "#d8922f"]}, "legend": null},
                        "stroke": {"field": "v", "type": "nominal", "scale": {"domain": ["V1", "V2"], "range": ["#2d5a1e", "#6a4310"]}, "legend": null},
                        "shape": {"field": "v", "type": "nominal", "scale": {"domain": ["V1", "V2"], "range": ["circle", "square"]}, "legend": null}}},
                    {"data": {"name": "m_cent"}, "mark": {"type": "point", "shape": "M-1,-0.66L1,-0.66L1,0.66L-1,0.66Z", "size": 225, "filled": false, "fill": "white", "strokeWidth": 1.2, "opacity": 1},
                      "encoding": {"color": {"field": "v", "type": "nominal", "scale": {"domain": ["V1", "V2"], "range": ["#6ab04c", "#e39a3b"]}, "legend": null}}},
                    {"data": {"name": "m_cent"}, "mark": {"type": "text", "fontSize": 9, "color": "#333", "align": "center", "baseline": "middle"},
                      "encoding": {"text": {"field": "v"}}}
                  ]
                },
                {"data": {"values": [{"note": "legend"}]}, "mark": {"type": "rect", "fill": "white", "stroke": "#555", "strokeWidth": 1.3},
                  "encoding": {
                    "x": {"datum": -0.459, "type": "quantitative", "scale": {"domain": [-0.469, 0.469], "nice": false, "zero": false},
                      "axis": {"title": "PC1 (20.3%)", "values": [-0.4, -0.2, 0, 0.2, 0.4], "labelExpr": "(datum.value < 0 ? '-' : '') + format(abs(datum.value), '.1f')", "labelOverlap": false, "domain": false, "tickSize": 6, "tickWidth": 1.3, "tickColor": "#222", "labelFontSize": 13.3, "labelPadding": 5, "titleFontSize": 15.5, "titlePadding": 7}},
                    "x2": {"datum": 0.178},
                    "y": {"datum": 0.246, "type": "quantitative", "scale": {"domain": [-0.39, 0.383], "nice": false, "zero": false},
                      "axis": {"title": "PC2 (16.5%)", "values": [-0.3, -0.2, -0.1, 0, 0.1, 0.2, 0.3], "labelExpr": "datum.value == -0.1 ? '0.1' : (datum.value < 0 ? '-' : '') + format(abs(datum.value), '.1f')", "labelOverlap": false, "domain": false, "tickSize": 6, "tickWidth": 1.3, "tickColor": "#222", "labelFontSize": 13.3, "labelPadding": 3, "titleFontSize": 15.5, "titlePadding": 4}},
                    "y2": {"datum": 0.380}}},
                {"data": {"values": [{"note": "legend"}]},
                  "layer": [
                    {"mark": {"type": "text", "text": "V1:", "fontSize": 12, "color": "#5cb048", "align": "left", "baseline": "alphabetic"},
                      "encoding": {"y": {"datum": 0.324, "type": "quantitative", "scale": {"domain": [-0.39, 0.383], "nice": false, "zero": false},
                        "axis": {"title": "PC2 (16.5%)", "values": [-0.3, -0.2, -0.1, 0, 0.1, 0.2, 0.3], "labelExpr": "datum.value == -0.1 ? '0.1' : (datum.value < 0 ? '-' : '') + format(abs(datum.value), '.1f')", "labelOverlap": false, "domain": false, "tickSize": 6, "tickWidth": 1.3, "tickColor": "#222", "labelFontSize": 13.3, "labelPadding": 3, "titleFontSize": 15.5, "titlePadding": 4}}}},
                    {"mark": {"type": "text", "text": "Baseline", "fontSize": 12, "color": "#222", "align": "left", "baseline": "alphabetic", "dx": 22.5},
                      "encoding": {"y": {"datum": 0.324, "type": "quantitative", "scale": {"domain": [-0.39, 0.383], "nice": false, "zero": false},
                        "axis": {"title": "PC2 (16.5%)", "values": [-0.3, -0.2, -0.1, 0, 0.1, 0.2, 0.3], "labelExpr": "datum.value == -0.1 ? '0.1' : (datum.value < 0 ? '-' : '') + format(abs(datum.value), '.1f')", "labelOverlap": false, "domain": false, "tickSize": 6, "tickWidth": 1.3, "tickColor": "#222", "labelFontSize": 13.3, "labelPadding": 3, "titleFontSize": 15.5, "titlePadding": 4}}}},
                    {"mark": {"type": "text", "text": "V2:", "fontSize": 12, "color": "#ea9a35", "align": "left", "baseline": "alphabetic"},
                      "encoding": {"y": {"datum": 0.263, "type": "quantitative", "scale": {"domain": [-0.39, 0.383], "nice": false, "zero": false},
                        "axis": {"title": "PC2 (16.5%)", "values": [-0.3, -0.2, -0.1, 0, 0.1, 0.2, 0.3], "labelExpr": "datum.value == -0.1 ? '0.1' : (datum.value < 0 ? '-' : '') + format(abs(datum.value), '.1f')", "labelOverlap": false, "domain": false, "tickSize": 6, "tickWidth": 1.3, "tickColor": "#222", "labelFontSize": 13.3, "labelPadding": 3, "titleFontSize": 15.5, "titlePadding": 4}}}},
                    {"mark": {"type": "text", "text": "Post-indomethacin", "fontSize": 12, "color": "#222", "align": "left", "baseline": "alphabetic", "dx": 22.5},
                      "encoding": {"y": {"datum": 0.263, "type": "quantitative", "scale": {"domain": [-0.39, 0.383], "nice": false, "zero": false},
                        "axis": {"title": "PC2 (16.5%)", "values": [-0.3, -0.2, -0.1, 0, 0.1, 0.2, 0.3], "labelExpr": "datum.value == -0.1 ? '0.1' : (datum.value < 0 ? '-' : '') + format(abs(datum.value), '.1f')", "labelOverlap": false, "domain": false, "tickSize": 6, "tickWidth": 1.3, "tickColor": "#222", "labelFontSize": 13.3, "labelPadding": 3, "titleFontSize": 15.5, "titlePadding": 4}}}}
                  ],
                  "encoding": {"x": {"datum": -0.448, "type": "quantitative", "scale": {"domain": [-0.469, 0.469], "nice": false, "zero": false},
                    "axis": {"title": "PC1 (20.3%)", "values": [-0.4, -0.2, 0, 0.2, 0.4], "labelExpr": "(datum.value < 0 ? '-' : '') + format(abs(datum.value), '.1f')", "labelOverlap": false, "domain": false, "tickSize": 6, "tickWidth": 1.3, "tickColor": "#222", "labelFontSize": 13.3, "labelPadding": 5, "titleFontSize": 15.5, "titlePadding": 7}}}
                },
                {"data": {"values": [{"note": "p"}]}, "mark": {"type": "text", "text": "P<0.01", "fontSize": 13, "fontWeight": "bold", "color": "#111", "align": "right", "baseline": "alphabetic"},
                  "encoding": {
                    "x": {"datum": 0.418, "type": "quantitative", "scale": {"domain": [-0.469, 0.469], "nice": false, "zero": false},
                      "axis": {"title": "PC1 (20.3%)", "values": [-0.4, -0.2, 0, 0.2, 0.4], "labelExpr": "(datum.value < 0 ? '-' : '') + format(abs(datum.value), '.1f')", "labelOverlap": false, "domain": false, "tickSize": 6, "tickWidth": 1.3, "tickColor": "#222", "labelFontSize": 13.3, "labelPadding": 5, "titleFontSize": 15.5, "titlePadding": 7}},
                    "y": {"datum": -0.359, "type": "quantitative", "scale": {"domain": [-0.39, 0.383], "nice": false, "zero": false},
                      "axis": {"title": "PC2 (16.5%)", "values": [-0.3, -0.2, -0.1, 0, 0.1, 0.2, 0.3], "labelExpr": "datum.value == -0.1 ? '0.1' : (datum.value < 0 ? '-' : '') + format(abs(datum.value), '.1f')", "labelOverlap": false, "domain": false, "tickSize": 6, "tickWidth": 1.3, "tickColor": "#222", "labelFontSize": 13.3, "labelPadding": 3, "titleFontSize": 15.5, "titlePadding": 4}}}}
              ]
            }
          ]
        }
      ]
    }
  ]
}
